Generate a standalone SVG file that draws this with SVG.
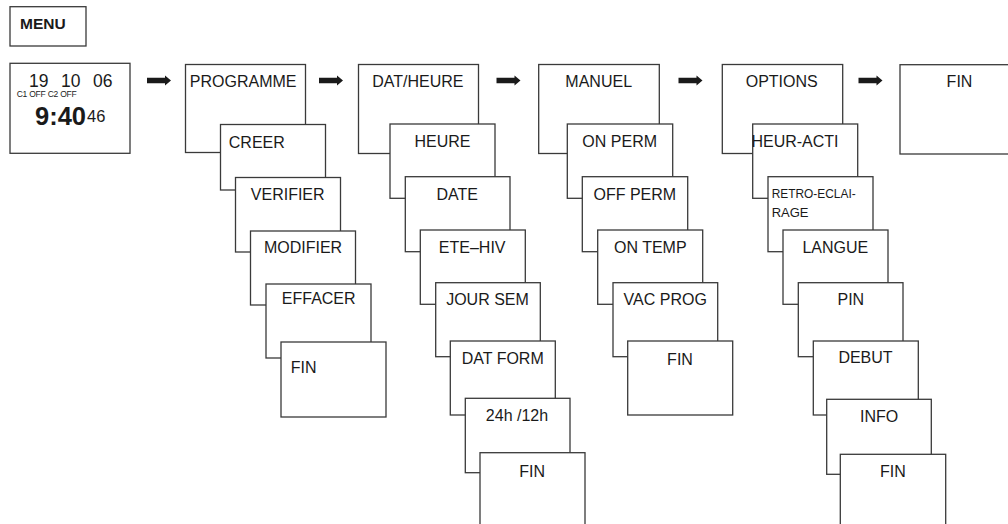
<svg xmlns="http://www.w3.org/2000/svg" width="1008" height="524" viewBox="0 0 1008 524">
<style>
.b{fill:#fff;stroke:#3a3a3a;stroke-width:1.3}
.t{font-family:"Liberation Sans",Arial,sans-serif;font-size:16px;fill:#1a1a1a;text-anchor:middle}
.s{font-family:"Liberation Sans",Arial,sans-serif;fill:#1a1a1a}
</style>
<defs>
<path id="arr" d="M0,-2.7 H18 V-5 L24,0 L18,5 V2.7 H0 Z" fill="#1a1a1a"/>
</defs>
<rect width="1008" height="524" fill="#fff"/>
<g id="menu">
<rect class="b" x="10" y="6.7" width="76" height="39.3"/>
<text class="s" x="20" y="28.5" font-size="15.5" font-weight="bold">MENU</text>
</g>
<g id="clock">
<rect class="b" x="10" y="63.3" width="120" height="90"/>
<text class="s" x="29" y="87" font-size="17.5">19</text>
<text class="s" x="61" y="87" font-size="17.5">10</text>
<text class="s" x="93" y="87" font-size="17.5">06</text>
<text class="s" x="16.7" y="97" font-size="8.5" textLength="60">C1 OFF C2 OFF</text>
<text class="s" x="35" y="125.3" font-size="25.5" font-weight="bold">9:40<tspan font-size="16.5" font-weight="normal" dx="1" dy="-3">46</tspan></text>
</g>
<g id="connectors">
<use href="#arr" x="147" y="80.5"/>
<use href="#arr" x="319" y="80.5"/>
<use href="#arr" x="496.5" y="80.5"/>
<use href="#arr" x="678.5" y="80.5"/>
<use href="#arr" x="858.5" y="80.5"/>
</g>
<g id="programme">
<g id="n-programme"><rect class="b" x="185.5" y="64.5" width="120" height="88"/><text class="t" x="243.2" y="86.7">PROGRAMME</text></g>
<g id="n-creer"><rect class="b" x="220.5" y="124.5" width="105" height="65.5"/><text class="t" x="256.8" y="148.3">CREER</text></g>
<g id="n-verifier"><rect class="b" x="235.5" y="177.5" width="105" height="74.5"/><text class="t" x="287.7" y="200">VERIFIER</text></g>
<g id="n-modifier"><rect class="b" x="250.5" y="231" width="105" height="74"/><text class="t" x="303" y="252.7">MODIFIER</text></g>
<g id="n-effacer"><rect class="b" x="266" y="284" width="105" height="74"/><text class="t" x="318.7" y="304.3">EFFACER</text></g>
<g id="n-fin1"><rect class="b" x="281" y="342" width="105" height="75"/><text class="t" x="303.7" y="373.3">FIN</text></g>
</g>
<g id="datheure">
<g id="n-datheure"><rect class="b" x="358.5" y="64.5" width="120" height="89"/><text class="t" x="417.8" y="86.7">DAT/HEURE</text></g>
<g id="n-heure"><rect class="b" x="390" y="124" width="105" height="74.3"/><text class="t" x="442.5" y="147.3">HEURE</text></g>
<g id="n-date"><rect class="b" x="405.3" y="176.7" width="104.7" height="75"/><text class="t" x="457.3" y="200">DATE</text></g>
<g id="n-etehiv"><rect class="b" x="420.3" y="230" width="105" height="74.3"/><text class="t" x="472.2" y="252.7">ETE–HIV</text></g>
<g id="n-joursem"><rect class="b" x="435.7" y="282.7" width="104.6" height="74"/><text class="t" x="487.5" y="305">JOUR SEM</text></g>
<g id="n-datform"><rect class="b" x="450.3" y="341" width="105" height="74"/><text class="t" x="502.7" y="364">DAT FORM</text></g>
<g id="n-2412"><rect class="b" x="465.3" y="398.3" width="104.7" height="74.4"/><text class="t" x="517" y="421">24h /12h</text></g>
<g id="n-fin2"><rect class="b" x="480" y="452.7" width="105" height="80"/><text class="t" x="532.2" y="476.7">FIN</text></g>
</g>
<g id="manuel">
<g id="n-manuel"><rect class="b" x="538.7" y="64.5" width="120.6" height="89"/><text class="t" x="598.7" y="86.7">MANUEL</text></g>
<g id="n-onperm"><rect class="b" x="567.3" y="124" width="105.4" height="74.3"/><text class="t" x="619.7" y="147.3">ON PERM</text></g>
<g id="n-offperm"><rect class="b" x="582.3" y="176.7" width="105.4" height="75"/><text class="t" x="634.8" y="200">OFF PERM</text></g>
<g id="n-ontemp"><rect class="b" x="597.7" y="230" width="105" height="74.3"/><text class="t" x="650.3" y="252.7">ON TEMP</text></g>
<g id="n-vacprog"><rect class="b" x="613" y="282.7" width="104.7" height="74"/><text class="t" x="665.2" y="305">VAC PROG</text></g>
<g id="n-fin3"><rect class="b" x="627.7" y="341" width="105" height="74"/><text class="t" x="680" y="365">FIN</text></g>
</g>
<g id="options">
<g id="n-options"><rect class="b" x="722.3" y="64.5" width="120.4" height="89"/><text class="t" x="781.7" y="86.7">OPTIONS</text></g>
<g id="n-heuracti"><rect class="b" x="752.7" y="124" width="105" height="74.3"/><text class="t" x="795" y="147.3">HEUR-ACTI</text></g>
<g id="n-retro"><rect class="b" x="768" y="176.7" width="105" height="75"/><text class="s" x="771.7" y="197.7" font-size="13" textLength="84" lengthAdjust="spacingAndGlyphs">RETRO-ECLAI-</text><text class="s" x="771.7" y="216.7" font-size="13">RAGE</text></g>
<g id="n-langue"><rect class="b" x="783" y="230" width="105" height="74.3"/><text class="t" x="835.3" y="252.7">LANGUE</text></g>
<g id="n-pin"><rect class="b" x="798.3" y="282.7" width="104.7" height="74"/><text class="t" x="850.8" y="305">PIN</text></g>
<g id="n-debut"><rect class="b" x="813.3" y="341" width="105" height="74"/><text class="t" x="865.5" y="363.3">DEBUT</text></g>
<g id="n-info"><rect class="b" x="826.7" y="399.3" width="104.6" height="75"/><text class="t" x="879.2" y="422.3">INFO</text></g>
<g id="n-fin4"><rect class="b" x="840.3" y="454.3" width="105.4" height="80"/><text class="t" x="892.8" y="477.3">FIN</text></g>
</g>
<g id="fin">
<rect class="b" x="900" y="64.7" width="120" height="89.3"/><text class="t" x="959.5" y="86.7">FIN</text>
</g>
</svg>
